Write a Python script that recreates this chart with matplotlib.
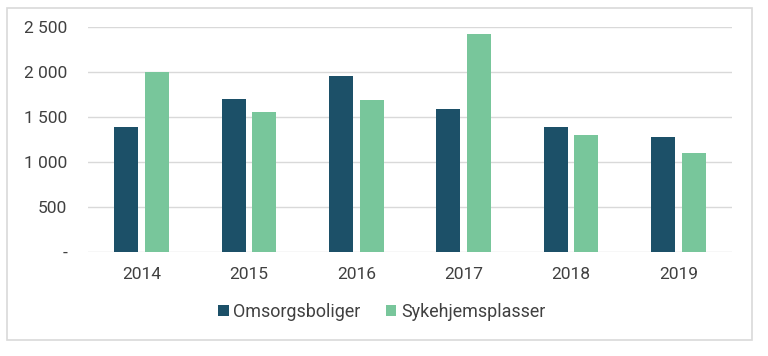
import numpy as np
import matplotlib
matplotlib.use('Agg')
import matplotlib.pyplot as plt
from matplotlib.patches import Rectangle

years = ['2014', '2015', '2016', '2017', '2018', '2019']
omsorgsboliger = [1390, 1705, 1962, 1588, 1391, 1283]
sykehjemsplasser = [2007, 1554, 1692, 2430, 1299, 1102]
yticks = [0, 500, 1000, 1500, 2000, 2500]
ylabels = ['-', '500', '1 000', '1 500', '2 000', '2 500']

DARK = '#1c5068'
GREEN = '#78c69b'
TEXT = '#404040'

plt.rcParams['font.family'] = ['Roboto', 'DejaVu Sans']

fig = plt.figure(figsize=(7.68, 3.56), dpi=100)
fig.patches.append(Rectangle((7/768, 1 - 340/356), 745/768, 332/356,
                             transform=fig.transFigure, fill=False,
                             edgecolor='#d9d9d9', linewidth=1.2))
ax = fig.add_axes([88/768, 1 - 252/356, 644/768, 224.7/356])

x = np.arange(len(years))
w = 0.225
off = 0.143
ax.bar(x - off, omsorgsboliger, w, color=DARK, label='Omsorgsboliger', zorder=3)
ax.bar(x + off, sykehjemsplasser, w, color=GREEN, label='Sykehjemsplasser', zorder=3)

ax.set_xlim(-0.5, len(years) - 0.5)
ax.set_ylim(0, 2500)
ax.set_yticks(yticks)
ax.set_yticklabels(ylabels)
ax.set_xticks(x)
ax.set_xticklabels(years)
ax.grid(axis='y', color='#d9d9d9', linewidth=1, zorder=0)
ax.tick_params(length=0, labelsize=12.5, colors=TEXT)
ax.tick_params(axis='x', pad=11)
ax.tick_params(axis='y', pad=15)
for s in ax.spines.values():
    s.set_visible(False)

fig.legend(loc='center', bbox_to_anchor=(0.497, 1 - 312/356), ncol=2, frameon=False,
           fontsize=12.9, handlelength=0.6, handleheight=0.6, handletextpad=0.25,
           columnspacing=1.4, labelcolor=TEXT)

fig.savefig('out.png', dpi=100)
